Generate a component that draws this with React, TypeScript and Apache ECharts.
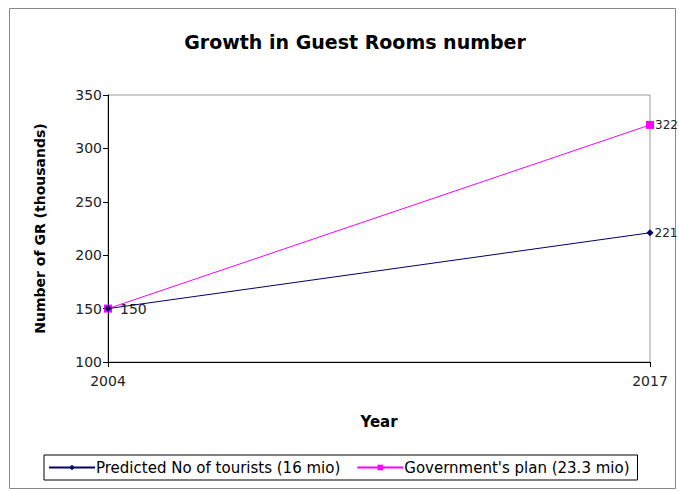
import React, { useEffect, useRef } from "react";
import * as echarts from "echarts";

const years = ["2004", "2017"];
const predicted = [150, 221];
const government = [150, 322];
const seriesNames = ["Predicted No of tourists (16 mio)", "Government's plan (23.3 mio)"];

export default function App() {
  const ref = useRef<HTMLDivElement>(null);
  useEffect(() => {
    const chart = echarts.init(ref.current!, null, { renderer: "svg" });
    const font = "'DejaVu Sans', sans-serif";
    chart.setOption({
      animation: false,
      backgroundColor: "#fff",
      textStyle: { fontFamily: font },
      title: {
        text: "Growth in Guest Rooms number",
        left: 350,
        textAlign: "center",
        top: 27,
        textStyle: { fontSize: 19, fontWeight: "bold", color: "#000", fontFamily: font },
      },
      grid: {
        left: 108,
        right: 29,
        top: 95,
        bottom: 129,
        show: true,
        borderColor: "#999",
        borderWidth: 1,
        backgroundColor: "transparent",
      },
      xAxis: {
        type: "category",
        data: years,
        boundaryGap: false,
        name: "Year",
        nameLocation: "middle",
        nameGap: 52,
        nameTextStyle: { fontSize: 15, fontWeight: "bold", color: "#000", fontFamily: font },
        axisLine: { lineStyle: { color: "#000", width: 1 } },
        axisTick: { show: true, length: 5, lineStyle: { color: "#000" } },
        axisLabel: { fontSize: 14, color: "#222", margin: 12, fontFamily: font },
        splitLine: { show: false },
      },
      yAxis: {
        type: "value",
        min: 100,
        max: 350,
        interval: 50,
        name: "Number of GR (thousands)",
        nameLocation: "middle",
        nameGap: 61,
        nameRotate: 90,
        nameTextStyle: { fontSize: 14, fontWeight: "bold", color: "#000", fontFamily: font },
        axisLine: { show: true, lineStyle: { color: "#000", width: 1 } },
        axisTick: { show: true, length: 5, lineStyle: { color: "#000" } },
        axisLabel: { fontSize: 14, color: "#222", margin: 6, fontFamily: font },
        splitLine: { show: false },
      },
      legend: {
        left: 44,
        top: 455,
        orient: "horizontal",
        borderColor: "#000",
        borderWidth: 1,
        padding: [5, 8, 5, 4],
        itemWidth: 46,
        itemHeight: 7,
        itemGap: 16,
        textStyle: { fontSize: 15, color: "#000", padding: [0, 0, 0, -4], fontFamily: font },
        data: seriesNames,
      },
      series: [
        {
          name: seriesNames[0],
          type: "line",
          data: predicted,
          color: "#000066",
          lineStyle: { color: "#000066", width: 1 },
          symbol: "diamond",
          symbolSize: 7,
          itemStyle: { color: "#000066" },
          label: {
            show: true,
            position: "right",
            distance: 1,
            fontSize: 12,
            color: "#222",
            fontFamily: font,
            formatter: (p: any) => (p.dataIndex === 0 ? "" : String(p.value)),
          },
          z: 3,
        },
        {
          name: seriesNames[1],
          type: "line",
          data: government,
          color: "#ff00ff",
          lineStyle: { color: "#ff00ff", width: 1 },
          symbol: "rect",
          symbolSize: 8,
          itemStyle: { color: "#ff00ff" },
          label: {
            show: true,
            position: "right",
            distance: 1,
            fontSize: 12,
            color: "#222",
            fontFamily: font,
            formatter: (p: any) => (p.dataIndex === 0 ? "{a|" + p.value + "}" : String(p.value)),
            rich: { a: { fontSize: 14, color: "#222", padding: [0, 0, 0, 7], fontFamily: font } },
          },
          z: 2,
        },
      ],
      graphic: [
        {
          type: "rect",
          shape: { x: 9.5, y: 8.5, width: 666, height: 480 },
          style: { fill: "none", stroke: "#888", lineWidth: 1 },
          z: -1,
          silent: true,
        },
      ],
    });
    return () => chart.dispose();
  }, []);
  return (
    <div
      ref={ref}
      style={{ position: "absolute", left: 0, top: 0, width: 679, height: 491 }}
    />
  );
}
